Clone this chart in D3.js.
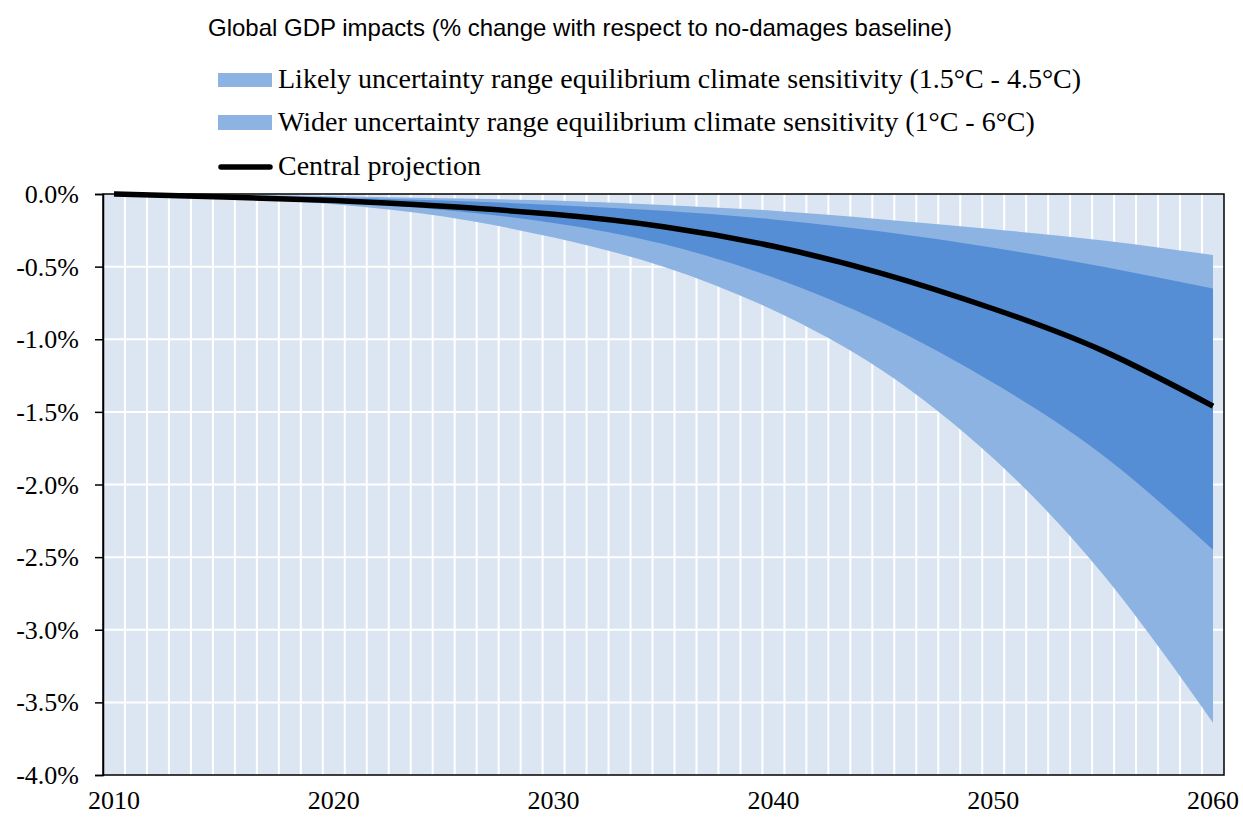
<!DOCTYPE html>
<html>
<head>
<meta charset="utf-8">
<script src="https://cdn.jsdelivr.net/npm/d3@7"></script>
<style>
  html, body { margin: 0; padding: 0; background: #fff; }
  svg { display: block; }
</style>
</head>
<body>
<svg id="chart" width="1243" height="818"></svg>
<script>
// ---- Data (% change) ----
const years = d3.range(2010, 2061);                 // category axis 2010..2060
const sampleYears   = [2010, 2015, 2020, 2025, 2030, 2035, 2040, 2045, 2050, 2055, 2060];
const central       = [0, -0.02, -0.045, -0.085, -0.14, -0.225, -0.36, -0.55, -0.79, -1.08, -1.46];
const likelyUpper   = [0, -0.01, -0.025, -0.045, -0.075, -0.115, -0.175, -0.26, -0.37, -0.50, -0.65];
const likelyLower   = [0, -0.02, -0.055, -0.11, -0.20, -0.345, -0.575, -0.89, -1.30, -1.80, -2.45];
const widerUpper    = [0, -0.005, -0.015, -0.03, -0.045, -0.075, -0.115, -0.175, -0.243, -0.32, -0.42];
const widerLower    = [0, -0.025, -0.07, -0.155, -0.30, -0.50, -0.80, -1.22, -1.82, -2.62, -3.64];
const yTicks        = [0, -0.5, -1, -1.5, -2, -2.5, -3, -3.5, -4];
const xTickLabels   = [2010, 2020, 2030, 2040, 2050, 2060];
const titleText     = "Global GDP impacts (% change with respect to no-damages baseline)";
const legendLabels  = [
  "Likely uncertainty range equilibrium climate sensitivity (1.5°C - 4.5°C)",
  "Wider uncertainty range equilibrium climate sensitivity (1°C - 6°C)",
  "Central projection"
];

// ---- Styles ----
const C_BG = "#DCE6F2", C_LIGHT = "#8DB3E2", C_DARK = "#558ED5";
const serif = "'Liberation Serif', 'Times New Roman', serif";
const sans = "'Liberation Sans', Arial, sans-serif";

const svg = d3.select("#chart");
const plot = { left: 103, right: 1224, top: 194, bottom: 775 };

const x = d3.scaleBand().domain(years).range([plot.left, plot.right]).padding(0);
const bw = x.bandwidth();
const xc = yr => x(yr) + bw / 2;
const y = d3.scaleLinear().domain([-4, 0]).range([plot.bottom, plot.top]);

// background
svg.append("rect")
  .attr("x", plot.left).attr("y", plot.top)
  .attr("width", plot.right - plot.left).attr("height", plot.bottom - plot.top)
  .attr("fill", C_BG);

// grid lines
const grid = svg.append("g");
grid.selectAll("line.v").data(years.slice(1)).join("line")
  .attr("x1", d => x(d)).attr("x2", d => x(d))
  .attr("y1", plot.top).attr("y2", plot.bottom)
  .attr("stroke", "#fff").attr("stroke-width", 2);
grid.selectAll("line.h").data(yTicks.slice(1, -1)).join("line")
  .attr("x1", plot.left).attr("x2", plot.right)
  .attr("y1", d => y(d)).attr("y2", d => y(d))
  .attr("stroke", "#fff").attr("stroke-width", 2);

// bands
const rows = sampleYears.map((yr, i) => ({
  yr, c: central[i], lu: likelyUpper[i], ll: likelyLower[i], wu: widerUpper[i], wl: widerLower[i]
}));
const curve = d3.curveNatural;
svg.append("path").datum(rows)
  .attr("d", d3.area().curve(curve).x(d => xc(d.yr)).y0(d => y(d.wl)).y1(d => y(d.wu)))
  .attr("fill", C_LIGHT);
svg.append("path").datum(rows)
  .attr("d", d3.area().curve(curve).x(d => xc(d.yr)).y0(d => y(d.ll)).y1(d => y(d.lu)))
  .attr("fill", C_DARK);

// plot frame
svg.append("rect")
  .attr("x", plot.left).attr("y", plot.top)
  .attr("width", plot.right - plot.left).attr("height", plot.bottom - plot.top)
  .attr("fill", "none").attr("stroke", "#000").attr("stroke-width", 1.5);

// central line
svg.append("path").datum(rows)
  .attr("d", d3.line().curve(curve).x(d => xc(d.yr)).y(d => y(d.c)))
  .attr("fill", "none").attr("stroke", "#000").attr("stroke-width", 5.5)
  .attr("stroke-linecap", "butt");

// y axis
const yAxis = d3.axisLeft(y).tickValues(yTicks).tickSize(8).tickPadding(16)
  .tickFormat(d => d.toFixed(1) + "%");
const gy = svg.append("g").attr("transform", `translate(${plot.left},0)`).call(yAxis);
gy.select(".domain").attr("stroke", "#000").attr("stroke-width", 1.5);
gy.selectAll(".tick line").attr("stroke", "#000").attr("stroke-width", 1.5);
gy.selectAll(".tick text").attr("font-family", serif).attr("font-size", 26).attr("fill", "#000")
  .attr("dy", "0.33em");

// x axis
const xAxis = d3.axisBottom(x).tickValues(xTickLabels).tickSize(0).tickPadding(16);
const gx = svg.append("g").attr("transform", `translate(0,${plot.bottom})`).call(xAxis);
gx.select(".domain").remove();
gx.selectAll(".tick text").attr("font-family", serif).attr("font-size", 26).attr("fill", "#000");

// title
svg.append("text").attr("x", 208).attr("y", 36)
  .attr("font-family", sans).attr("font-size", 24).attr("fill", "#000")
  .text(titleText);

// legend
const lg = svg.append("g");
lg.append("rect").attr("x", 218).attr("y", 73).attr("width", 54).attr("height", 14).attr("fill", C_LIGHT);
lg.append("rect").attr("x", 218).attr("y", 115).attr("width", 54).attr("height", 15).attr("fill", C_LIGHT);
lg.append("line").attr("x1", 221).attr("x2", 270).attr("y1", 167).attr("y2", 167)
  .attr("stroke", "#000").attr("stroke-width", 5.5).attr("stroke-linecap", "round");
const legendBase = [88, 131, 175];
lg.selectAll("text").data(legendLabels).join("text")
  .attr("x", 278).attr("y", (d, i) => legendBase[i])
  .attr("font-family", serif).attr("font-size", 28).attr("fill", "#000")
  .text(d => d);
</script>
</body>
</html>
